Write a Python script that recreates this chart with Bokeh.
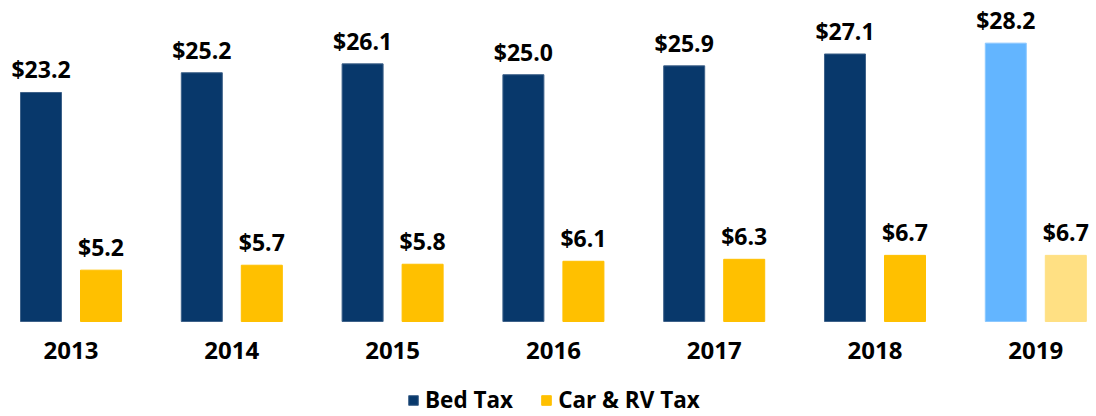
from bokeh.plotting import figure
from bokeh.models import (ColumnDataSource, Range1d, Legend, LegendItem)
from bokeh.transform import dodge
from bokeh.core.properties import value
from bokeh.embed import file_html
from bokeh.resources import INLINE

years = ["2013", "2014", "2015", "2016", "2017", "2018", "2019"]
bed_tax = [23.2, 25.2, 26.1, 25.0, 25.9, 27.1, 28.2]
car_rv_tax = [5.2, 5.7, 5.8, 6.1, 6.3, 6.7, 6.7]
bed_colors = ["#08386B"] * 6 + ["#63B5FF"]
car_colors = ["#FFC000"] * 6 + ["#FFE083"]
bed_edges = ["#3D6189"] * 6 + ["#8CC8FF"]
car_edges = ["#FFC000"] * 6 + ["#FFE083"]

FONT = "Open Sans"

src = ColumnDataSource(dict(
    x=list(range(len(years))),
    year=years,
    zero=[0] * len(years),
    bed=bed_tax,
    car=car_rv_tax,
    bed_lbl=["$%.1f" % v for v in bed_tax],
    car_lbl=["$%.1f" % v for v in car_rv_tax],
    bed_col=bed_colors,
    car_col=car_colors,
    bed_edge=bed_edges,
    car_edge=car_edges,
))

p = figure(width=1096, height=416, output_backend="svg", toolbar_location=None,
           x_range=Range1d(-0.4385, 6.3775), y_range=Range1d(-9.625, 32.52),
           min_border_left=0, min_border_right=0, min_border_top=0, min_border_bottom=0)
p.outline_line_color = None
p.xgrid.visible = False
p.ygrid.visible = False
p.xaxis.visible = False
p.yaxis.visible = False
p.background_fill_color = "white"
p.border_fill_color = "white"

off = 0.1866
bw = 0.255
r_bed = p.vbar(x=dodge("x", -off), top="bed", width=bw, source=src,
               fill_color="bed_col", line_color="bed_edge", line_width=1)
r_car = p.vbar(x=dodge("x", off), top="car", width=bw, source=src,
               fill_color="car_col", line_color="car_edge", line_width=1)

p.text(x=dodge("x", -off), y="bed", text="bed_lbl", source=src,
       text_align="center", text_baseline="alphabetic", y_offset=-23,
       text_font=value(FONT), text_font_style="bold", text_font_size="23px",
       text_color="black")
p.text(x=dodge("x", off), y="car", text="car_lbl", source=src,
       text_align="center", text_baseline="alphabetic", y_offset=-23,
       text_font=value(FONT), text_font_style="bold", text_font_size="23px",
       text_color="black")

# category (year) labels
p.text(x="x", y="zero", text="year", source=src,
       text_align="center", text_baseline="middle", y_offset=29,
       text_font=value(FONT), text_font_style="bold", text_font_size="24px",
       text_color="black")

legend = Legend(items=[LegendItem(label="Bed Tax", renderers=[r_bed], index=0),
                       LegendItem(label="Car & RV Tax", renderers=[r_car], index=0)],
                orientation="horizontal", location=(407, 1),
                glyph_width=12, glyph_height=12, label_standoff=6, spacing=27,
                label_height=20,
                label_text_font=FONT, label_text_font_style="bold",
                label_text_font_size="22.5px", label_text_color="black",
                border_line_color=None, background_fill_alpha=0,
                padding=0, margin=0)
p.add_layout(legend, "center")

open("out.html", "w").write(file_html(p, INLINE))
